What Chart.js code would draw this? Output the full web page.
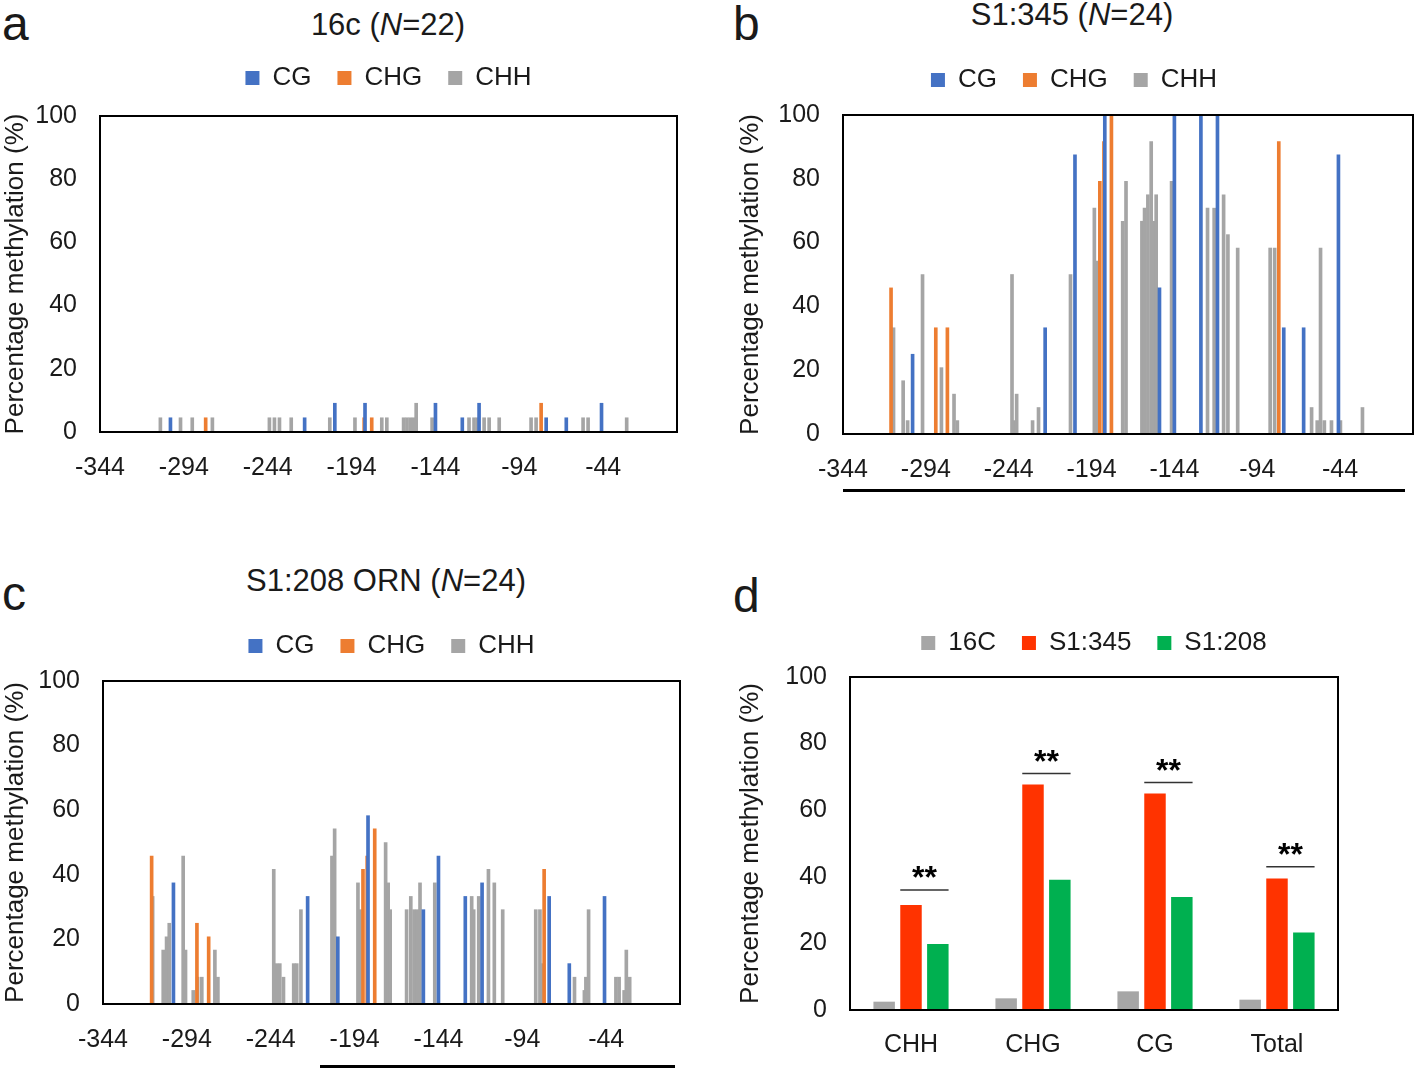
<!DOCTYPE html>
<html>
<head>
<meta charset="utf-8">
<script src="https://cdn.jsdelivr.net/npm/chart.js@4.4.1/dist/chart.umd.min.js"></script>
<style>
body { margin: 0; background: #fff; overflow: hidden; font-family: "Liberation Sans", Arial, sans-serif; color: #1a1a1a; }
#page { position: relative; width: 1418px; height: 1072px; overflow: hidden; }
.panel { position: absolute; }
.letter { position: absolute; font-size: 48px; line-height: 48px; }
.title { position: absolute; font-size: 31px; line-height: 36px; text-align: center; white-space: nowrap; }
.rule { position: absolute; background: #000; height: 3px; }
</style>
</head>
<body>
<div id="page">
    <div class="letter" style="left:2px;top:0px">a</div>
    <div class="letter" style="left:733px;top:0px">b</div>
    <div class="letter" style="left:2px;top:570px">c</div>
    <div class="letter" style="left:733px;top:572px">d</div>

    <div class="title" style="left:238px;top:7px;width:300px">16c (<i>N</i>=22)</div>
    <div class="title" style="left:922px;top:-3px;width:300px">S1:345 (<i>N</i>=24)</div>
    <div class="title" style="left:236px;top:563px;width:300px">S1:208 ORN (<i>N</i>=24)</div>

    <div class="panel" style="left:0px;top:39px;width:700px;height:453px"><canvas id="chartA"></canvas></div>
    <div class="panel" style="left:735px;top:41px;width:692px;height:453px"><canvas id="chartB"></canvas></div>
    <div class="panel" style="left:0px;top:607px;width:700px;height:457px"><canvas id="chartC"></canvas></div>
    <div class="panel" style="left:735px;top:604px;width:623px;height:461px"><canvas id="chartD"></canvas></div>

    <div class="rule" style="left:843px;top:489px;width:562px"></div>
    <div class="rule" style="left:320px;top:1065px;width:355px"></div>
</div>

<script>
// Axis ticks
const positionTicks = [-344, -294, -244, -194, -144, -94, -44];
const percentTicks = [0, 20, 40, 60, 80, 100];

// CG and CHG sites (position relative to TSS), shared by the three samples
const cgPos = [-302, -222, -204, -186, -153, -144, -128, -118, -78, -66, -45];
const cg16c = [4.5, 4.5, 9.1, 9.1, 0, 9.1, 4.5, 9.1, 4.5, 4.5, 9.1];
const cgS1345 = [25, 33.3, 87.5, 100, 45.8, 100, 100, 100, 33.3, 33.3, 87.5];
const cgS1208 = [37.5, 33.3, 20.8, 58.3, 29.2, 45.8, 33.3, 37.5, 33.3, 12.5, 33.3];

const chgPos = [-315, -288, -281, -189, -186.5, -182, -81];
const chg16c = [0, 0, 4.5, 0, 4.5, 4.5, 9.1];
const chgS1345 = [45.8, 33.3, 33.3, 79.2, 91.7, 100, 91.7];
const chgS1208 = [45.8, 25, 20.8, 41.7, 45.8, 54.2, 41.7];

// CHH sites, per sample
const chhPos16c = [-308, -296, -289, -277, -243, -240, -237, -230, -207, -192, -176, -173, -163, -161, -159, -157, -155.5,
    -146, -124, -121, -119, -115, -112, -106, -87, -84, -56, -53, -30];
const chh16c = [4.5, 4.5, 4.5, 4.5, 4.5, 4.5, 4.5, 4.5, 4.5, 4.5, 4.5, 4.5, 4.5, 4.5, 4.5, 4.5, 9.1,
    4.5, 4.5, 4.5, 4.5, 4.5, 4.5, 4.5, 4.5, 4.5, 4.5, 4.5, 4.5];

const chhPosS1345 = [-313.5, -307.7, -305, -296, -284.6, -277, -275, -242, -240.6, -239.2, -229.6, -226, -206.7,
    -192.3, -190.9, -175.2, -173.2, -163.6, -162, -160, -158, -156.5, -155, -145.7, -124, -120, -114.3, -111.7,
    -105.8, -86.2, -83.5, -61.2, -57.8, -55.8, -53.5, -49.2, -43.8, -30.5];
const chhS1345 = [33.3, 16.7, 4.2, 50, 20.8, 12.5, 4.2, 50, 4.2, 12.5, 4.2, 8.3, 50,
    70.8, 54.2, 66.7, 79.2, 66.7, 70.8, 75, 91.7, 66.7, 75, 79.2, 70.8, 70.8, 75, 62.5,
    58.3, 58.3, 58.3, 8.3, 4.2, 58.3, 4.2, 4.2, 4.2, 8.3];

const chhPosS1208 = [-314.4, -308.1, -306.1, -304.5, -296.2, -294.8, -290.2, -287.6, -285.1, -277.3, -275.5,
    -242.2, -240.6, -238.6, -236.4, -230.3, -228.5, -226, -207.5, -205.9, -192, -190.8, -175.5, -174, -172.8,
    -163, -160.5, -158.5, -156.5, -155, -146.2, -124.2, -123, -120, -114.2, -110.7, -105.7, -86, -83.5, -82.3,
    -62.9, -57, -56.1, -54.5, -38.2, -36.3, -33.3, -32, -30];
const chhS1208 = [33.3, 16.7, 20.8, 25, 45.8, 16.7, 4.2, 8.3, 8.3, 16.7, 8.3,
    41.7, 12.5, 12.5, 8.3, 12.5, 12.5, 29.2, 45.8, 54.2, 37.5, 29.2, 50, 37.5, 29.2,
    29.2, 33.3, 29.2, 29.2, 37.5, 37.5, 33.3, 29.2, 33.3, 41.7, 37.5, 29.2, 29.2, 29.2, 12.5,
    8.3, 4.2, 8.3, 29.2, 8.3, 8.3, 4.2, 16.7, 8.3];

// Panel d: mean methylation per context
const contexts = ['CHH', 'CHG', 'CG', 'Total'];
const mean16c = [2.5, 3.5, 5.6, 3.1];
const meanS1345 = [31.5, 67.7, 65, 39.5];
const meanS1208 = [19.8, 39.1, 33.9, 23.3];
const sigLine = [36, 71, 68.3, 43];

const fontFamily = '"Liberation Sans", Arial, sans-serif';
Chart.defaults.font.family = fontFamily;
Chart.defaults.color = '#1a1a1a';

// extra space between legend and plot
const legendGap = {
    id: 'legendGap',
    beforeLayout(chart, args, opts) {
        const legend = chart.legend;
        if (!legend || legend._gapPatched) return;
        const fit = legend.fit;
        legend.fit = function () {
            fit.call(legend);
            legend.height += opts.extra || 0;
        };
        legend._gapPatched = true;
    }
};

// black box round the plot area
const frame = {
    id: 'frame',
    afterDatasetsDraw(chart) {
        const { ctx, chartArea: a } = chart;
        ctx.save();
        ctx.strokeStyle = '#000';
        ctx.lineWidth = 2;
        ctx.strokeRect(a.left, a.top, a.right - a.left, a.bottom - a.top);
        ctx.restore();
    }
};

const sigMarks = {
    id: 'sigMarks',
    afterDatasetsDraw(chart) {
        const ctx = chart.ctx;
        const yScale = chart.scales.y;
        const bars1 = chart.getDatasetMeta(1).data;
        const bars2 = chart.getDatasetMeta(2).data;
        sigLine.forEach((level, i) => {
            const left = bars1[i].x - bars1[i].width / 2;
            const right = bars2[i].x + bars2[i].width / 2;
            const y = yScale.getPixelForValue(level);
            ctx.save();
            ctx.strokeStyle = '#333';
            ctx.lineWidth = 1.5;
            ctx.beginPath();
            ctx.moveTo(left, y);
            ctx.lineTo(right, y);
            ctx.stroke();
            ctx.fillStyle = '#000';
            ctx.font = 'bold 32px ' + fontFamily;
            ctx.textAlign = 'center';
            ctx.textBaseline = 'alphabetic';
            ctx.fillText('**', (left + right) / 2, y - 2);
            ctx.restore();
        });
    }
};

function percentAxis(width) {
    return {
        min: 0,
        max: 100,
        grid: { display: false, drawTicks: false },
        border: { display: false },
        afterBuildTicks: s => { s.ticks = percentTicks.map(v => ({ value: v })); },
        afterFit: s => { s.width = width; },
        ticks: { padding: 23, font: { size: 25 } },
        title: { display: true, text: 'Percentage methylation (%)', font: { size: 26 }, padding: 0 }
    };
}

const legendLabels = { boxWidth: 14, boxHeight: 14, padding: 26, font: { size: 26 } };

function profileChart(id, cgVals, chgVals, chhPos, chhVals, box) {
    const points = (pos, vals) => pos.map((p, i) => ({ x: p, y: vals[i] }));
    return new Chart(document.getElementById(id), {
        type: 'bar',
        data: {
            datasets: [
                { label: 'CG', data: points(cgPos, cgVals), backgroundColor: '#4472c4' },
                { label: 'CHG', data: points(chgPos, chgVals), backgroundColor: '#ed7d31' },
                { label: 'CHH', data: points(chhPos, chhVals), backgroundColor: '#a5a5a5' }
            ]
        },
        options: {
            responsive: true,
            maintainAspectRatio: false,
            animation: false,
            layout: { padding: { right: box.right } },
            datasets: { bar: { barThickness: 3, grouped: false, borderWidth: 0 } },
            scales: {
                x: {
                    type: 'linear',
                    min: -344,
                    max: 0,
                    offset: false,
                    grid: { display: false, drawTicks: false, offset: false },
                    border: { display: false },
                    afterBuildTicks: s => { s.ticks = positionTicks.map(v => ({ value: v })); },
                    afterFit: s => { s.height = 60; },
                    ticks: { padding: 21, font: { size: 25 }, maxRotation: 0, autoSkip: false }
                },
                y: percentAxis(box.yWidth)
            },
            plugins: {
                legend: { fullSize: box.fullLegend, labels: legendLabels },
                legendGap: { extra: box.gap },
                tooltip: { enabled: false }
            }
        },
        plugins: [legendGap, frame]
    });
}

profileChart('chartA', cg16c, chg16c, chhPos16c, chh16c, { right: 23, yWidth: 100, gap: 15, fullLegend: false });
profileChart('chartB', cgS1345, chgS1345, chhPosS1345, chhS1345, { right: 14, yWidth: 108, gap: 12, fullLegend: true });
profileChart('chartC', cgS1208, chgS1208, chhPosS1208, chhS1208, { right: 20, yWidth: 103, gap: 12, fullLegend: false });

new Chart(document.getElementById('chartD'), {
    type: 'bar',
    data: {
        labels: contexts,
        datasets: [
            { label: '16C', data: mean16c, backgroundColor: '#a6a6a6' },
            { label: 'S1:345', data: meanS1345, backgroundColor: '#ff3300' },
            { label: 'S1:208', data: meanS1208, backgroundColor: '#00b050' }
        ]
    },
    options: {
        responsive: true,
        maintainAspectRatio: false,
        animation: false,
        layout: { padding: { right: 20 } },
        datasets: { bar: { categoryPercentage: 0.66, barPercentage: 0.8, borderWidth: 0 } },
        scales: {
            x: {
                grid: { display: false, drawTicks: false },
                border: { display: false },
                afterFit: s => { s.height = 55; },
                ticks: { padding: 20, font: { size: 25 } }
            },
            y: percentAxis(115)
        },
        plugins: {
            legend: { fullSize: false, labels: legendLabels },
            legendGap: { extra: 11 },
            tooltip: { enabled: false }
        }
    },
    plugins: [legendGap, frame, sigMarks]
});
</script>
</body>
</html>
